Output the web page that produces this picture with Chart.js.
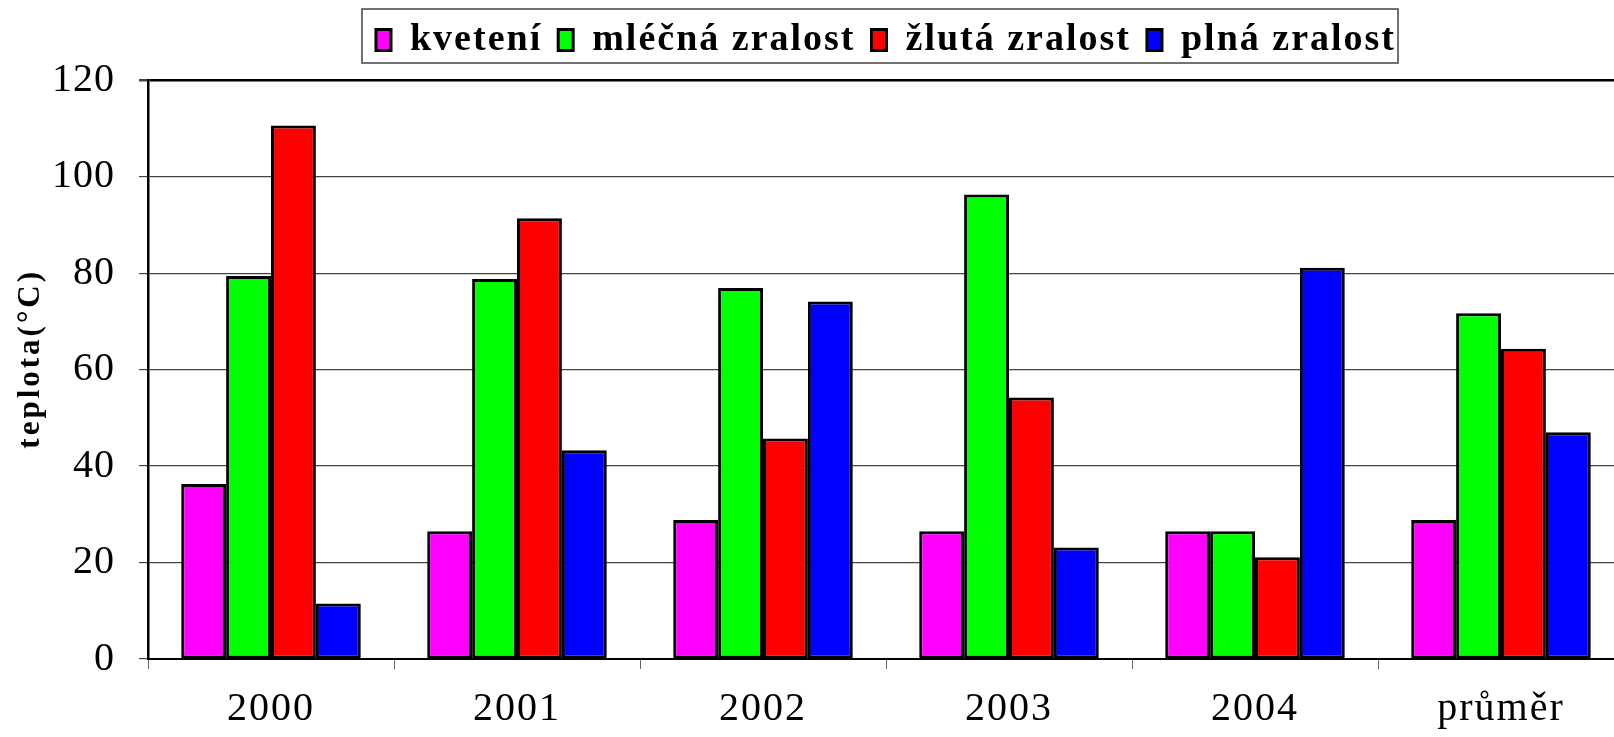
<!DOCTYPE html>
<html>
<head>
<meta charset="utf-8">
<script src="https://cdn.jsdelivr.net/npm/chart.js@4.4.0/dist/chart.umd.min.js"></script>
<style>
    html, body { margin: 0; padding: 0; background: #fff; overflow: hidden; }
    #obal { width: 1614px; height: 737px; overflow: hidden; }
    canvas { display: block; }
</style>
</head>
<body>
<div id="obal"><canvas id="grafTeploty" width="1624" height="737"></canvas></div>
<script>
const roky = ["2000", "2001", "2002", "2003", "2004", "průměr"];
const kveteni = [36.3, 26.5, 28.8, 26.5, 26.5, 28.8];
const mlecnaZralost = [79.4, 78.8, 76.9, 96.3, 26.5, 71.7];
const zlutaZralost = [110.6, 91.4, 45.7, 54.2, 21.1, 64.3];
const plnaZralost = [11.5, 43.3, 74.1, 23.1, 81.1, 47.0];
const osaY = [0, 20, 40, 60, 80, 100, 120];

const font = "'Liberation Serif', 'Times New Roman', serif";

// canvas letterSpacing for individual parts (the original text is a bit spaced)
function obalit(obj, fn, mezera) {
    if (!obj || obj["_puv_" + fn]) return;
    const puvodni = obj[fn];
    obj["_puv_" + fn] = puvodni;
    obj[fn] = function (...args) {
        const c = this.ctx;
        const stara = c.letterSpacing;
        c.letterSpacing = mezera;
        const r = puvodni.apply(this, args);
        c.letterSpacing = stara;
        return r;
    };
}

const mezeryPismen = {
    id: "mezeryPismen",
    afterInit(chart) {
        obalit(chart.legend, "fit", "2px");
        obalit(chart.legend, "draw", "2px");
    },
    beforeLayout(chart) {
        obalit(chart.scales.y, "drawLabels", "1px");
        obalit(chart.scales.y, "drawTitle", "3px");
        obalit(chart.scales.x, "drawLabels", "2px");
    }
};

const ramecekLegendy = {
    id: "ramecekLegendy",
    afterDraw(chart) {
        const boxy = chart.legend.legendHitBoxes;
        if (!boxy || !boxy.length) return;
        const vlevo = Math.min(...boxy.map(b => b.left)) - 14;
        const vpravo = Math.max(...boxy.map(b => b.left + b.width)) + 2;
        const horni = Math.min(...boxy.map(b => b.top)) - 12;
        const dolni = Math.max(...boxy.map(b => b.top + b.height)) + 4;
        const ctx = chart.ctx;
        ctx.save();
        ctx.strokeStyle = "#444";
        ctx.lineWidth = 1.5;
        ctx.strokeRect(vlevo, horni, vpravo - vlevo, dolni - horni);
        ctx.restore();
    }
};

const spolecne = { borderColor: "#000", borderWidth: 3, borderSkipped: false };

const ctx = document.getElementById("grafTeploty").getContext("2d");
new Chart(ctx, {
    type: "bar",
    data: {
        labels: roky,
        datasets: [
            { label: "kvetení", data: kveteni, backgroundColor: "#FF00FF", ...spolecne },
            { label: "mléčná zralost", data: mlecnaZralost, backgroundColor: "#00FF00", ...spolecne },
            { label: "žlutá zralost", data: zlutaZralost, backgroundColor: "#FF0000", ...spolecne },
            { label: "plná zralost", data: plnaZralost, backgroundColor: "#0000FF", ...spolecne }
        ]
    },
    options: {
        responsive: false,
        animation: false,
        categoryPercentage: 0.73,
        barPercentage: 1.0,
        layout: { padding: { top: 5, left: 0, right: 0, bottom: 0 } },
        plugins: {
            legend: {
                display: true,
                position: "top",
                fullSize: false,
                weight: 3000,
                labels: {
                    color: "#000",
                    boxWidth: 15,
                    boxHeight: 21,
                    padding: 16,
                    font: { family: font, size: 38, weight: "bold" }
                }
            },
            // empty title only as a spacer between legend and plot
            title: {
                display: true,
                text: " ",
                font: { size: 1 },
                padding: { top: 0, bottom: 10 }
            },
            tooltip: { enabled: false }
        },
        scales: {
            x: {
                grid: {
                    display: true,
                    offset: true,
                    drawOnChartArea: false,
                    drawTicks: true,
                    tickLength: 10,
                    color: "#666"
                },
                border: { color: "#000", width: 2 },
                ticks: {
                    color: "#000",
                    padding: 16,
                    font: { family: font, size: 40 }
                },
                afterFit: scale => { scale.height = 78; }
            },
            y: {
                min: osaY[0],
                max: osaY[osaY.length - 1],
                ticks: {
                    stepSize: osaY[1] - osaY[0],
                    color: "#000",
                    padding: 24,
                    font: { family: font, size: 40 }
                },
                grid: {
                    color: c => c.tick && c.tick.value === osaY[osaY.length - 1] ? "#000" : "#444",
                    lineWidth: c => c.tick && c.tick.value === osaY[osaY.length - 1] ? 2.5 : 1.2,
                    tickLength: 9,
                    tickColor: "#444"
                },
                border: { color: "#000", width: 2.5 },
                title: {
                    display: true,
                    text: "\u00A0\u00A0teplota(°C)",
                    color: "#000",
                    padding: { top: 12, bottom: 0 },
                    font: { family: font, size: 31, weight: "bold" }
                },
                afterFit: scale => { scale.width = 148; }
            }
        }
    },
    plugins: [mezeryPismen, ramecekLegendy]
});
</script>
</body>
</html>
